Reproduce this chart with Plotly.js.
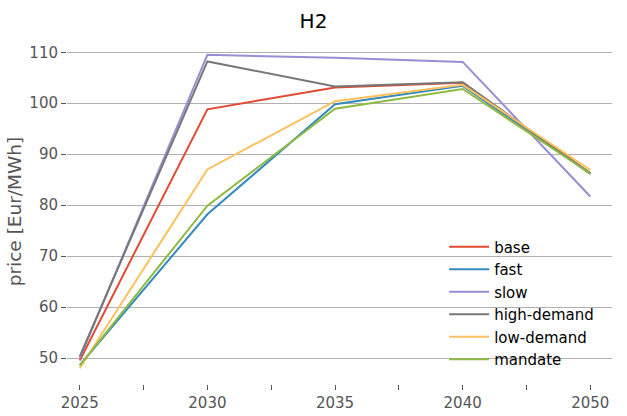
<!DOCTYPE html>
<html>
<head>
<meta charset="utf-8">
<script src="https://cdn.plot.ly/plotly-3.0.1.min.js"></script>
<style>html,body{margin:0;padding:0;background:#fff;}#chart{width:627px;height:416px;}</style>
</head>
<body>
<div id="chart"></div>
<script>
const years = ['2025', '2030', '2035', '2040', '2050'];
const seriesNames = ['base', 'fast', 'slow', 'high-demand', 'low-demand', 'mandate'];
const base = [49.5, 98.8, 103.1, 104.0, 86.3];
const fast = [48.6, 78.2, 99.8, 103.4, 86.2];
const slow = [50.0, 109.5, 108.9, 108.1, 81.7];
const highDemand = [50.3, 108.2, 103.3, 104.1, 86.1];
const lowDemand = [48.0, 87.0, 100.4, 103.6, 86.9];
const mandate = [48.5, 79.9, 98.9, 102.8, 86.2];
const colors = ['#E24A33', '#348ABD', '#988ED5', '#777777', '#FBC15E', '#8EBA42'];
const allValues = [base, fast, slow, highDemand, lowDemand, mandate];

const xIdx = years.map((_, i) => i);
const traces = allValues.map((vals, k) => ({
  x: xIdx,
  y: vals,
  type: 'scatter',
  mode: 'lines',
  name: seriesNames[k],
  line: {color: colors[k], width: 2},
  hoverinfo: 'skip'
}));

const layout = {
  width: 627,
  height: 416,
  margin: {l: 67, r: 15, t: 39, b: 32},
  paper_bgcolor: '#ffffff',
  plot_bgcolor: '#ffffff',
  font: {family: 'DejaVu Sans, sans-serif', color: '#555555', size: 15},
  title: {text: 'H2', font: {size: 20, color: '#000000'}, x: 0.5, xanchor: 'center', y: 0.95, yanchor: 'middle'},
  showlegend: true,
  legend: {
    x: 0.692, y: 0.445, xanchor: 'left', yanchor: 'top',
    bgcolor: 'rgba(0,0,0,0)', borderwidth: 0,
    itemwidth: 40,
    font: {size: 15, color: '#000000'}
  },
  xaxis: {
    range: [-0.1, 4.17],
    tickmode: 'array',
    tickvals: xIdx,
    ticktext: years,
    ticks: 'outside', ticklen: 5, tickcolor: '#555555', tickwidth: 1,
    showgrid: false, zeroline: false, showline: false,
    minor: {tickmode: 'array', tickvals: [0.5, 1.5, 2.5, 3.5], ticks: 'outside', ticklen: 5, tickcolor: '#555555', showgrid: false},
    tickfont: {size: 15, color: '#555555'}
  },
  yaxis: {
    range: [44.9, 112.6],
    tickmode: 'array',
    tickvals: [50, 60, 70, 80, 90, 100, 110],
    ticks: 'outside', ticklen: 5, tickcolor: '#555555', tickwidth: 1,
    showgrid: true, gridcolor: '#b0b0b0', gridwidth: 1,
    zeroline: false, showline: false,
    tickfont: {size: 15, color: '#555555'},
    title: {text: 'price [Eur/MWh]', font: {size: 18.5, color: '#555555'}, standoff: 2}
  }
};

Plotly.newPlot('chart', traces, layout, {staticPlot: true, displayModeBar: false});
</script>
</body>
</html>
